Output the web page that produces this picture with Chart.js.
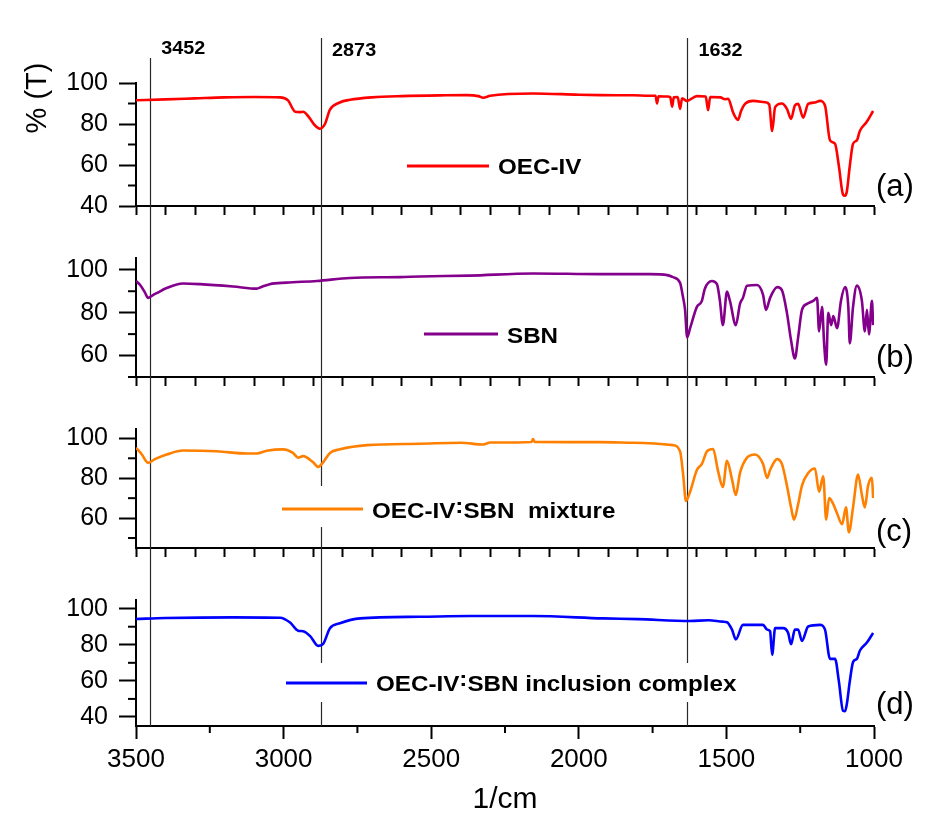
<!DOCTYPE html>
<html>
<head>
<meta charset="utf-8">
<script src="https://cdn.jsdelivr.net/npm/chart.js@4"></script>
<style>
  body { margin: 0; background: #fff; }
  #wrap { position: relative; width: 940px; height: 820px; background: #fff; }
  #wrap canvas { position: absolute; left: 0; }
</style>
</head>
<body>
<div id="wrap">
  <canvas id="pa" width="940" height="232" style="top:0px"></canvas>
  <canvas id="pb" width="940" height="171" style="top:232px"></canvas>
  <canvas id="pc" width="940" height="171" style="top:403px"></canvas>
  <canvas id="pd" width="940" height="246" style="top:574px"></canvas>
</div>
<script>
// ---- data (wavenumber in 1/cm, transmittance in %) ----
const oecWn = [3500, 3400, 3300, 3200, 3100, 3012, 2985, 2961, 2945, 2934, 2915, 2895, 2877, 2860, 2843, 2810, 2775, 2700, 2600, 2450, 2379, 2340, 2324, 2300, 2155, 2000, 1928, 1816, 1760, 1740, 1735, 1730, 1700, 1690, 1684, 1678, 1665, 1657, 1650, 1634, 1600, 1570, 1562, 1555, 1520, 1505, 1494, 1478, 1468, 1461, 1450, 1437, 1410, 1369, 1355, 1345, 1335, 1312, 1295, 1281, 1268, 1257, 1240, 1223, 1200, 1183, 1166, 1149, 1132, 1119, 1105, 1098, 1092, 1082, 1071, 1058, 1048, 1024, 1003];
const oecT = [91.6, 92.0, 92.5, 93.0, 93.2, 93.0, 91.5, 86.0, 85.8, 86.0, 83.5, 79.5, 77.7, 80.0, 87.0, 90.5, 91.8, 93.0, 93.6, 94.0, 94.1, 93.6, 92.8, 93.8, 94.9, 94.3, 94.1, 94.0, 93.8, 93.8, 90.0, 93.5, 93.4, 93.0, 88.5, 93.0, 93.2, 87.4, 92.5, 91.3, 93.6, 93.4, 86.7, 93.2, 93.0, 92.1, 92.3, 85.9, 83.0, 82.0, 86.5, 89.8, 91.3, 90.6, 89.5, 76.6, 88.2, 90.0, 87.4, 82.5, 89.0, 89.8, 83.1, 89.8, 90.5, 91.3, 89.0, 72.0, 70.4, 59.5, 45.6, 45.0, 47.1, 59.5, 70.4, 72.0, 76.6, 81.2, 86.4];

const sbnWn = [3500, 3486, 3470, 3459, 3445, 3430, 3396, 3341, 3283, 3171, 3091, 3075, 3047, 2991, 2887, 2775, 2606, 2538, 2369, 2155, 1928, 1759, 1700, 1681, 1657, 1648, 1640, 1633, 1623, 1600, 1583, 1573, 1549, 1532, 1522, 1512, 1498, 1488, 1468, 1454, 1444, 1430, 1396, 1376, 1366, 1352, 1328, 1312, 1295, 1281, 1268, 1257, 1244, 1227, 1206, 1193, 1186, 1176, 1169, 1162, 1155, 1145, 1138, 1125, 1112, 1098, 1087, 1082, 1071, 1058, 1041, 1031, 1024, 1017, 1007, 1003];
const sbnT = [94.8, 92.9, 89.5, 86.9, 88.0, 89.1, 91.5, 93.6, 93.3, 92.2, 91.2, 92.0, 93.3, 94.0, 94.8, 96.2, 96.6, 96.9, 97.3, 98.3, 98.0, 98.0, 97.5, 96.6, 94.0, 88.0, 81.3, 68.5, 72.8, 82.7, 85.5, 91.2, 94.8, 93.3, 85.5, 74.2, 89.8, 85.5, 74.2, 84.1, 86.9, 92.6, 92.9, 88.4, 81.3, 86.9, 91.9, 90.5, 79.9, 67.1, 58.6, 68.5, 81.3, 84.1, 85.5, 86.9, 71.3, 82.7, 65.7, 55.7, 79.9, 74.2, 78.4, 72.8, 85.5, 91.9, 82.7, 65.7, 82.7, 92.6, 85.5, 71.3, 81.3, 69.9, 85.5, 74.2];

const mixWn = [3500, 3480, 3459, 3436, 3396, 3341, 3226, 3125, 3091, 3057, 3002, 2968, 2951, 2934, 2900, 2883, 2866, 2843, 2809, 2717, 2538, 2400, 2324, 2300, 2160, 2155, 2150, 2000, 1928, 1816, 1681, 1657, 1647, 1637, 1623, 1600, 1583, 1566, 1545, 1529, 1512, 1498, 1481, 1468, 1454, 1430, 1403, 1376, 1362, 1352, 1328, 1312, 1295, 1281, 1271, 1257, 1244, 1223, 1200, 1186, 1172, 1162, 1152, 1138, 1125, 1108, 1095, 1085, 1071, 1054, 1041, 1031, 1020, 1007, 1003];
const mixT = [95.3, 91.9, 87.7, 89.6, 91.9, 93.9, 93.5, 92.4, 92.4, 93.8, 94.5, 92.7, 90.3, 91.1, 88.0, 85.7, 88.0, 92.7, 94.5, 96.6, 97.3, 97.8, 96.9, 97.9, 98.2, 99.7, 98.2, 98.1, 98.1, 97.8, 96.6, 93.5, 82.6, 68.6, 73.2, 84.1, 87.2, 93.5, 94.7, 84.1, 75.6, 88.8, 79.4, 71.6, 82.6, 90.3, 91.9, 87.2, 80.2, 84.1, 89.6, 87.2, 76.3, 65.4, 59.2, 67.0, 76.3, 82.6, 84.9, 73.2, 81.0, 59.2, 70.1, 67.0, 62.3, 56.9, 65.4, 52.9, 65.4, 81.8, 71.6, 65.4, 76.3, 80.2, 70.1];

const incWn = [3500, 3400, 3171, 3012, 2978, 2951, 2934, 2910, 2883, 2866, 2843, 2809, 2741, 2538, 2369, 2155, 1918, 1800, 1623, 1560, 1512, 1498, 1481, 1468, 1444, 1376, 1362, 1352, 1345, 1335, 1308, 1291, 1281, 1268, 1257, 1244, 1223, 1183, 1166, 1149, 1132, 1119, 1105, 1098, 1092, 1082, 1071, 1058, 1048, 1024, 1003];
const incT = [94.3, 94.8, 95.2, 95.0, 92.3, 87.8, 87.5, 84.8, 79.4, 80.5, 89.2, 91.9, 94.6, 95.5, 95.9, 95.9, 94.6, 94.2, 93.2, 93.6, 92.8, 92.5, 88.4, 83.0, 91.0, 91.0, 88.4, 87.5, 74.4, 89.2, 89.2, 86.6, 80.3, 88.4, 88.4, 82.1, 90.1, 91.0, 88.4, 72.2, 72.2, 59.7, 43.5, 43.2, 47.2, 59.7, 70.4, 72.2, 76.7, 81.2, 86.6];

const seriesNames = ['OEC-IV', 'SBN', 'OEC-IV\u02F8SBN  mixture', 'OEC-IV\u02F8SBN inclusion complex'];
const panelTags = ['(a)', '(b)', '(c)', '(d)'];

const markerWn = [3452, 2873, 1632];
const markerLabels = ['3452', '2873', '1632'];

const xTicks100 = [3500, 3400, 3300, 3200, 3100, 3000, 2900, 2800, 2700, 2600, 2500, 2400, 2300, 2200, 2100, 2000, 1900, 1800, 1700, 1600, 1500, 1400, 1300, 1200, 1100, 1000];
const xMajorTicks = [3500, 3000, 2500, 2000, 1500, 1000];
const xMinorTicks = [3250, 2750, 2250, 1750, 1250];
const yMajorA = [40, 60, 80, 100];
const yMajorB = [60, 80, 100];
const yMajorC = [60, 80, 100];
const yMajorD = [40, 60, 80, 100];
const yMinorTicks = [50, 70, 90];

// ---- layout / style ----
const FONT = '"Liberation Sans", Arial, Helvetica, sans-serif';
const markerTop = [58, 38, 38];

const panels = [
  { id: 'pa', top: 0, padTop: 83, xHeight: 20, yMin: 40, yMax: 100, yMajor: yMajorA,
    wn: oecWn, t: oecT, color: '#ff0000', k: 0, tagY: 187,
    leg: { x1: 407, x2: 489, y: 166, ty: 168 }, box: null },
  { id: 'pb', top: 232, padTop: 21, xHeight: 20, yMin: 50, yMax: 105.5, yMajor: yMajorB,
    wn: sbnWn, t: sbnT, color: '#84008c', k: 1, tagY: 358,
    leg: { x1: 424, x2: 498, y: 334, ty: 337 }, box: null },
  { id: 'pc', top: 403, padTop: 23, xHeight: 20, yMin: 45, yMax: 104.7, yMajor: yMajorC,
    wn: mixWn, t: mixT, color: '#ff8000', k: 2, tagY: 532,
    leg: { x1: 282, x2: 363, y: 509, ty: 512 }, box: [272, 486, 632, 527] },
  { id: 'pd', top: 574, padTop: 22, xHeight: 94, yMin: 35, yMax: 104.8, yMajor: yMajorD,
    wn: incWn, t: incT, color: '#0000ff', k: 3, tagY: 705, bottom: true,
    leg: { x1: 286, x2: 367, y: 683, ty: 685 }, box: [276, 663, 752, 702] }
];

function makeDeco(p) {
  return {
    id: 'deco_' + p.id,
    beforeDatasetsDraw(chart) {
      const ctx = chart.ctx;
      const xs = chart.scales.x;
      ctx.save();
      ctx.strokeStyle = '#2a2a2a';
      ctx.lineWidth = 1.2;
      markerWn.forEach((w, i) => {
        const px = Math.round(xs.getPixelForValue(w)) + 0.5;
        const y0 = p.top === 0 ? markerTop[i] : 0;
        const y1 = p.bottom ? chart.chartArea.bottom : chart.height;
        ctx.beginPath();
        ctx.moveTo(px, y0);
        ctx.lineTo(px, y1);
        ctx.stroke();
      });
      ctx.restore();
    },
    afterDraw(chart) {
      const ctx = chart.ctx;
      const xs = chart.scales.x, ys = chart.scales.y;
      const area = chart.chartArea;
      ctx.save();

      // minor ticks
      ctx.strokeStyle = '#000';
      ctx.lineWidth = 2;
      yMinorTicks.forEach(v => {
        if (v < p.yMin || v > p.yMax) return;
        const py = ys.getPixelForValue(v);
        ctx.beginPath();
        ctx.moveTo(area.left - 8, py);
        ctx.lineTo(area.left, py);
        ctx.stroke();
      });
      if (p.bottom) {
        xMinorTicks.forEach(v => {
          const px = xs.getPixelForValue(v);
          ctx.beginPath();
          ctx.moveTo(px, area.bottom);
          ctx.lineTo(px, area.bottom + 7);
          ctx.stroke();
        });
      }

      // legend
      if (p.box) {
        ctx.fillStyle = '#fff';
        ctx.fillRect(p.box[0], p.box[1] - p.top, p.box[2] - p.box[0], p.box[3] - p.box[1]);
      }
      ctx.strokeStyle = p.color;
      ctx.lineWidth = 3;
      ctx.beginPath();
      ctx.moveTo(p.leg.x1, p.leg.y - p.top);
      ctx.lineTo(p.leg.x2, p.leg.y - p.top);
      ctx.stroke();
      ctx.fillStyle = '#000';
      ctx.textBaseline = 'middle';
      ctx.textAlign = 'left';
      ctx.font = 'bold 22px ' + FONT;
      ctx.save();
      ctx.translate(p.leg.x2 + 9, p.leg.ty - p.top);
      ctx.scale(1.1, 1);
      ctx.fillText(seriesNames[p.k], 0, 0);
      ctx.restore();

      // panel tag
      ctx.font = '31px ' + FONT;
      ctx.fillText(panelTags[p.k], 876, p.tagY - p.top);

      if (p.top === 0) {
        // marker labels
        ctx.font = 'bold 18px ' + FONT;
        ctx.textBaseline = 'alphabetic';
        markerWn.forEach((w, i) => {
          const px = xs.getPixelForValue(w);
          ctx.save();
          ctx.translate(px + 11, i === 0 ? 54 : 56);
          ctx.scale(1.1, 1);
          ctx.fillText(markerLabels[i], 0, 0);
          ctx.restore();
        });
        // y axis title
        ctx.save();
        ctx.translate(38, 98);
        ctx.rotate(-Math.PI / 2);
        ctx.textAlign = 'center';
        ctx.textBaseline = 'middle';
        ctx.font = '29px ' + FONT;
        ctx.fillText('% (T)', 0, 0);
        ctx.restore();
      }
      ctx.restore();
    }
  };
}

panels.forEach(p => {
  const pts = p.wn.map((w, i) => ({ x: w, y: p.t[i] }));
  new Chart(document.getElementById(p.id), {
    type: 'line',
    data: {
      datasets: [{
        data: pts,
        borderColor: p.color,
        borderWidth: 2.6,
        pointRadius: 0,
        fill: false,
        cubicInterpolationMode: 'monotone'
      }]
    },
    options: {
      responsive: false,
      animation: false,
      events: [],
      layout: { padding: { top: p.padTop, right: 66, left: 0, bottom: 0 } },
      plugins: { legend: { display: false }, tooltip: { enabled: false } },
      scales: {
        x: {
          type: 'linear',
          min: 1000,
          max: 3500,
          reverse: true,
          afterBuildTicks: s => { s.ticks = (p.bottom ? xMajorTicks : xTicks100).map(v => ({ value: v })); },
          afterFit: s => { s.height = p.xHeight; },
          grid: { display: true, drawOnChartArea: false, drawTicks: true,
                  tickLength: p.bottom ? 13 : 9, tickWidth: 2, tickColor: '#000' },
          border: { display: true, color: '#000', width: 2 },
          ticks: { display: !!p.bottom, color: '#000', padding: 5, maxRotation: 0, autoSkip: false,
                   font: { family: FONT, size: 26 }, callback: v => String(v) },
          title: { display: !!p.bottom, text: '1/cm', color: '#000',
                   font: { family: FONT, size: 30 }, padding: { top: 0, bottom: 2 } }
        },
        y: {
          min: p.yMin,
          max: p.yMax,
          afterBuildTicks: s => { s.ticks = p.yMajor.map(v => ({ value: v })); },
          afterFit: s => { s.width = 136; },
          grid: { display: true, drawOnChartArea: false, drawTicks: true,
                  tickLength: 17, tickWidth: 2, tickColor: '#000' },
          border: { display: true, color: '#000', width: 2 },
          ticks: { color: '#000', padding: 11, font: { family: FONT, size: 25 },
                   callback: v => String(v) }
        }
      }
    },
    plugins: [makeDeco(p)]
  });
});
</script>
</body>
</html>
